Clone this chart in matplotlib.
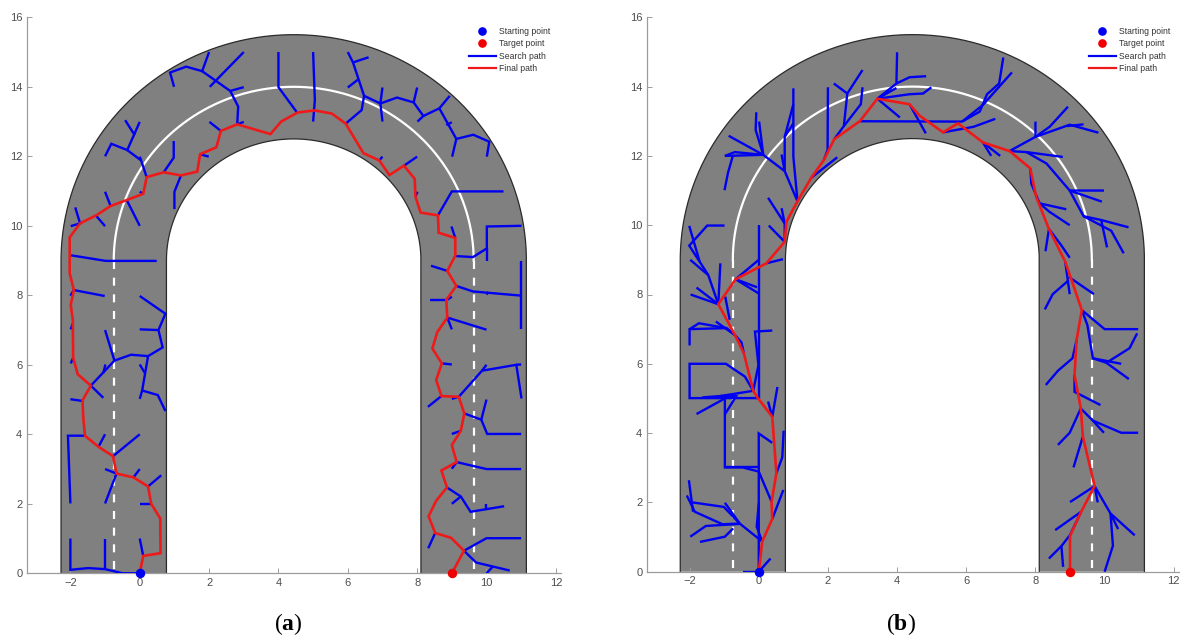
import numpy as np
import matplotlib
matplotlib.use('Agg')
import matplotlib.pyplot as pl

pl.rcParams['font.family'] = ['Liberation Sans', 'DejaVu Sans']
pl.rcParams['mathtext.fontset'] = 'custom'
pl.rcParams['mathtext.bf'] = 'Liberation Serif:bold'
pl.rcParams['mathtext.rm'] = 'Liberation Serif'

# road shape
road_cx = 4.44
road_cy = 9.0
outer_rx, outer_ry = 6.71, 6.5
mid_rx, mid_ry = 5.19, 5.0
inner_rx, inner_ry = 3.67, 3.5

start_point = (0, 0)
target_point = (9, 0)

# panel (a)
final_a = [(0,0),(0.1,0.5),(0.6,0.58),(0.59,1.58),(0.33,2.0),(0.24,2.5),(-0.18,2.76),(-0.67,2.87),
           (-0.77,3.37),(-1.19,3.64),(-1.58,3.96),(-1.63,4.5),(-1.65,4.98),(-1.41,5.4),(-1.79,5.73),
           (-1.92,6.2),(-1.93,7.29),(-1.99,7.72),(-1.9,8.15),(-2.02,8.63),(-2.02,9.67),(-1.72,10.07),
           (-1.24,10.31),(-0.84,10.57),(-0.375,10.74),(0.1,10.92),(0.2,11.4),(0.69,11.54),(1.19,11.45),
           (1.66,11.56),(1.74,12.06),(2.21,12.26),(2.34,12.73),(2.81,12.92),(3.77,12.64),(4.08,13.0),
           (4.55,13.26),(5.04,13.32),(5.54,13.23),(5.94,12.94),(6.45,12.09),(6.91,11.88),(7.2,11.46),
           (7.62,11.73),(7.93,11.35),(7.95,10.84),(8.1,10.38),(8.6,10.3),(8.62,9.8),(9.1,9.65),(9.1,9.14),
           (8.87,8.7),(9.13,8.27),(8.84,7.87),(8.87,7.36),(8.58,6.94),(8.44,6.47),(8.71,6.04),(8.55,5.56),
           (8.7,5.1),(9.2,5.08),(9.36,4.6),(9.26,4.1),(9.0,3.69),(9.14,3.2),(8.7,2.96),(8.86,2.47),
           (8.55,2.09),(8.33,1.64),(8.52,1.16),(8.98,1.02),(9.35,0.65),(9,0)]

search_a = [
    [(2,15),(1.8,14.45),(1.34,14.58),(0.875,14.41),(0.99,14.0)],
    [(1.8,14.45),(2.61,13.88),(2.84,13.43),(2.81,12.92)],
    [(3,15),(2.02,14.0)],
    [(2.61,13.88),(3,13.99)],
    [(2.81,12.92),(3,12.99)],
    [(4,15),(4,13.99),(4.53,13.27)],
    [(2.34,12.73),(2.01,12.99)],
    [(1.74,12.06),(1.99,11.99)],
    [(0.98,12.44),(0.98,11.96),(0.69,11.54)],
    [(1.19,11.45),(1,10.98),(1,10.48)],
    [(-0.42,13.04),(-0.16,12.63),(-0.36,12.18),(-0.82,12.36),(-1,12)],
    [(0,12.99),(-0.16,12.63)],
    [(-0.36,12.18),(0.04,11.88),(0.2,11.4)],
    [(0,11.99),(0.04,11.88)],
    [(0,10.98),(0.1,10.92)],
    [(-1,10.98),(-0.84,10.57)],
    [(-0.375,10.74),(0,10)],
    [(-1.25,10.28),(-1,9.99)],
    [(-1.86,10.53),(-1.72,10.07),(-1.99,9.99)],
    [(-1.98,9.15),(-0.98,8.99),(0.49,8.99)],
    [(-2,7.99),(-1.9,8.15),(-1.01,7.98)],
    [(0,7.98),(0.74,7.47),(0.54,7.0),(0.66,6.5),(0.24,6.25),(-0.25,6.29),(-0.73,6.12),(-1.41,5.4)],
    [(0,7.02),(0.54,7.0)],
    [(-1,7),(-0.73,6.12)],
    [(-0.99,6.01),(-1.05,5.76)],
    [(-1.41,5.4),(-1.05,5.05)],
    [(0.24,6.25),(0.07,5.26),(0,5.02)],
    [(0,6.01),(0.15,5.76)],
    [(0.07,5.26),(0.52,5.13),(0.74,4.67)],
    [(-2,5.01),(-1.65,4.96)],
    [(-1.99,6.04),(-1.92,6.2)],
    [(-1.99,7.02),(-1.93,7.19)],
    [(-1.58,3.96),(-2.07,3.96),(-2,2.01)],
    [(-1.19,3.64),(-1,4)],
    [(-0.77,3.37),(0,4)],
    [(-1,3),(-0.67,2.87),(-1,2.01)],
    [(-0.18,2.76),(0,3)],
    [(0.24,2.5),(0.62,2.82)],
    [(0,2),(0.33,2)],
    [(0,1),(0.1,0.5)],
    [(-2,1),(-2,0.1),(-1.49,0.15),(-1,0.12),(-0.49,0),(0,0)],
    [(-1,1),(-1,0.12)],
    [(5,15),(5.05,13.62),(5,13)],
    [(6,15),(6.15,14.7),(6.31,14.22),(6.47,13.74),(6.4,13.33),(5.94,12.94)],
    [(6.15,14.7),(6.6,14.85)],
    [(6.31,14.22),(6,13.98)],
    [(6.47,13.74),(6.94,13.52),(7.42,13.69),(7.9,13.55),(8.18,13.16),(8.01,13)],
    [(7,13.98),(6.94,13.52),(7,13)],
    [(8,13.98),(7.9,13.55)],
    [(8.18,13.16),(8.64,13.38),(8.94,13.74)],
    [(8.64,13.38),(9.13,12.5),(9.01,11.99)],
    [(9.13,12.5),(9.62,12.62),(10.08,12.42),(10.01,11.99)],
    [(8.84,12.9),(9,12.98)],
    [(6.91,11.88),(7,11.99)],
    [(7.62,11.73),(8,11.99)],
    [(7.95,10.84),(8.01,10.98)],
    [(8.6,10.3),(9,10.99),(10.49,10.99)],
    [(8.99,9.98),(9.1,9.65)],
    [(9.1,9.13),(9.61,9.1),(10.01,9.35),(10.01,9.98),(11.01,10)],
    [(10.01,9.35),(10.01,8.99)],
    [(8.4,8.85),(8.88,8.7)],
    [(9.13,8.27),(9.61,8.11),(11.01,7.99)],
    [(11,8.99),(11,7.02)],
    [(10.05,8.1),(10,8.02)],
    [(8.36,7.87),(8.84,7.87)],
    [(8.87,7.87),(9,7.96)],
    [(8.87,7.36),(10,7.01)],
    [(8.87,7.36),(9,7.02)],
    [(8.71,6.04),(9,6.01)],
    [(9.2,5.08),(9.87,5.83),(10.86,6),(11.01,5.03)],
    [(9.87,5.83),(10,6)],
    [(10.86,6),(11,6.01)],
    [(8.7,5.1),(8.31,4.79)],
    [(9.2,5.08),(9,5.02)],
    [(9.36,4.6),(9.85,4.42),(10,5)],
    [(9.85,4.42),(10.02,4.01),(11,4.01)],
    [(9.26,4.1),(9,4.01)],
    [(9.14,3.2),(9.61,3.09),(10,3),(11,3)],
    [(9.14,3.2),(9,3.01)],
    [(8.86,2.47),(9.26,2.21),(9.54,1.77),(10.51,1.93)],
    [(9.26,2.21),(9,2)],
    [(10,2),(10,1.86)],
    [(8.52,1.16),(8.32,0.72)],
    [(9.35,0.65),(10,1.01),(11,1.01)],
    [(9.35,0.65),(9.7,0.31),(10.67,0.08)],
    [(10,0),(10.18,0.19)],
]

# panel (b)
final_b = [(0,0),(0.1,0.87),(0.39,1.52),(0.37,2.02),(0.51,2.84),(0.39,4.47),(-0.04,5.03),(-0.16,5.22),
           (-0.43,6.3),(-0.69,6.83),(-0.92,7.26),(-1.17,7.72),(-0.67,8.44),(0.22,8.9),(0.75,9.52),(0.8,10.1),
           (1.12,10.69),(1.52,11.37),(1.88,11.88),(2.18,12.48),(2.92,13.0),(3.43,13.65),(4.36,13.49),
           (4.65,13.16),(5.33,12.68),(5.76,12.94),(6.48,12.39),(7.25,12.14),(7.85,11.64),(8.02,10.82),
           (8.39,9.89),(8.86,8.95),(9.34,7.55),(9.19,6.69),(9.13,5.68),(9.31,4.71),(9.37,3.9),(9.71,2.47),
           (9.32,1.73),(9,1.03),(9,0)]

search_b = [
    [(0,0),(0.34,0.38)],
    [(-0.47,0),(0,0)],
    [(0,0),(0,3.99),(0.39,3.72)],
    [(0.1,0.87),(-0.06,1.3),(0,1.97)],
    [(0.1,0.87),(-0.55,1.39),(-0.98,1.99)],
    [(-0.55,1.39),(-1.05,1.37),(-1.85,1.73),(-2.08,2.2)],
    [(-0.55,1.38),(-1.53,1.32),(-1.98,1.01)],
    [(-0.74,1.25),(-0.98,1.01),(-1.7,0.86)],
    [(-2.02,2.64),(-1.9,1.73)],
    [(-1.92,2.0),(-1.01,1.87),(-0.55,1.39)],
    [(0.39,1.52),(0.71,2.36)],
    [(0.37,2.02),(0,2.89),(-0.47,3.01),(-0.98,3.01),(-0.98,5)],
    [(-0.98,3.01),(0,3.01)],
    [(0.51,2.84),(0.68,3.3),(0.72,4.07)],
    [(0.39,4.47),(0.54,5.33)],
    [(0.39,4.47),(0.27,4.91)],
    [(-0.98,5),(-1.8,4.55)],
    [(-1.63,5.03),(-1.11,5.07),(-0.16,5.22)],
    [(-0.98,4.54),(-0.65,5.07),(-1.11,5.07)],
    [(-0.04,5.01),(-2,5.01),(-2,6),(-0.95,6),(-0.4,5.63),(-0.16,5.22)],
    [(-0.04,5.01),(0,5.01),(0,10)],
    [(-0.16,5.22),(-0.01,5.96),(-0.11,6.93),(0.39,6.96)],
    [(-0.43,6.3),(-0.5,6.62),(-0.69,6.83)],
    [(-2,6.53),(-2,7),(-0.93,7.03),(-0.69,6.83)],
    [(-2,7),(-1.73,7.17),(-0.93,7.03)],
    [(-1.24,7.22),(-0.69,6.83)],
    [(-1.17,7.72),(-1.97,8)],
    [(-1.17,7.72),(-1.8,8.2)],
    [(-1.17,7.72),(-1.46,8.56),(-1.98,9)],
    [(-1.46,8.56),(-1.71,8.95),(-2.01,9.41),(-1.49,9.99),(-0.99,9.99)],
    [(-1.71,8.95),(-2.01,9.98)],
    [(-1.11,8.9),(-1.17,7.72)],
    [(-0.97,7.94),(-0.84,7.27)],
    [(-0.67,8.44),(-0.05,8.21)],
    [(-0.67,8.44),(0,8.03)],
    [(-0.67,8.44),(0,9)],
    [(0.22,8.9),(0.7,9.02)],
    [(0.75,9.52),(0.29,9.99)],
    [(0.75,9.52),(0.75,10.05),(0.66,10.49)],
    [(0.75,10.05),(0.27,10.79)],
    [(1.12,10.69),(0.75,11.56)],
    [(1.12,10.69),(1,11.98),(1,13.95)],
    [(0.75,11.56),(0.66,12.04)],
    [(0.75,11.56),(0.75,12.55),(1,13.49)],
    [(0.75,12.55),(1,12.94)],
    [(0.75,11.56),(0.13,12.03),(-0.69,12.11),(-0.98,12.0)],
    [(0.13,12.03),(-0.87,12.58)],
    [(0.13,12.03),(-0.09,12.75),(-0.07,13.26)],
    [(0.13,12.03),(0.01,12.99)],
    [(0.13,12.03),(-0.98,12.0)],
    [(-0.75,12),(-0.89,11.51),(-0.99,11.01)],
    [(1.52,11.37),(2.27,11.96)],
    [(1.88,11.88),(1.99,12.17),(2,13.98)],
    [(2.18,12.48),(2.46,12.86),(2.56,13.8),(3.0,14.48)],
    [(2.56,13.8),(2.17,14.09)],
    [(2.46,12.86),(2.95,13.49),(3.0,13.98)],
    [(2.92,13.0),(5.88,12.99)],
    [(3.43,13.65),(3.98,14.09),(4,14.99)],
    [(3.98,14.09),(4.36,14.27),(4.84,14.3)],
    [(3.43,13.65),(3.98,13.96)],
    [(3.43,13.65),(4.36,13.78),(4.75,13.8),(4.99,13.98)],
    [(3.43,13.65),(4.08,13.11)],
    [(4.36,13.49),(4.83,12.65)],
    [(5.33,12.68),(6.21,12.84),(6.84,13.07)],
    [(5.88,12.99),(6.39,13.28),(6.6,13.78),(6.95,14.09),(7.07,14.84)],
    [(5.88,12.99),(6.48,13.47),(7.32,14.41)],
    [(6.48,12.39),(6.98,12.0)],
    [(6.48,12.39),(6.72,12)],
    [(7.25,12.14),(8,12.55),(8,12.99)],
    [(8,12.55),(8.41,12.84),(8.94,13.42)],
    [(8,12.55),(8.99,12.9),(9.82,12.67)],
    [(8.9,12.86),(9.39,12.91)],
    [(7.25,12.14),(7.74,12.11),(8.79,11.97)],
    [(7.74,12.11),(8.32,11.78),(8.99,11.0),(9.98,11)],
    [(8.99,11.0),(9.92,10.68)],
    [(8.99,11.0),(9.39,10.26),(9.9,10.15),(10.69,9.94)],
    [(9.39,10.26),(10.19,9.84),(10.55,9.19)],
    [(9.9,10.15),(10.07,9.36)],
    [(7.85,11.64),(7.88,11.2),(8.12,10.63),(8.89,10.46)],
    [(8.12,10.63),(8.4,10.39),(8.99,10.0)],
    [(8.39,9.89),(8.29,9.25)],
    [(8.39,9.89),(8.74,9.43),(8.99,9.06)],
    [(8.86,8.95),(8.99,8.01)],
    [(8.96,8.51),(9.69,8.01)],
    [(8.96,8.41),(8.5,8.01),(8.27,7.57)],
    [(9.34,7.55),(9.5,7.12),(9.66,6.16),(10.05,6.03),(10.7,5.56)],
    [(9.34,7.55),(10,7),(10.97,7)],
    [(9.66,6.16),(10.48,6)],
    [(10.1,6.06),(10.72,6.45),(10.94,6.88)],
    [(9.19,6.69),(9.07,6.16),(8.65,5.8),(8.3,5.39)],
    [(9.13,5.68),(9.13,5.19),(9.88,4.81)],
    [(9.31,4.71),(9.66,4.36),(10.48,4.01),(10.97,4.01)],
    [(9.66,4.36),(9.98,4.01)],
    [(9.31,4.71),(8.99,4.01),(8.65,3.66)],
    [(9.37,3.9),(9.1,3.01)],
    [(9.71,2.47),(9.0,2.01)],
    [(9.71,2.47),(9.8,2.0)],
    [(9.71,2.47),(10.17,1.68),(10.87,1.05)],
    [(10.17,1.68),(10.24,0.75),(10,0)],
    [(10.17,1.68),(10.39,1.23)],
    [(9.32,1.73),(8.57,1.2)],
    [(9.32,1.73),(9.0,1.06),(8.75,0.74),(8.39,0.38)],
    [(8.75,0.74),(8.8,0.14)],
]

W, H = 1180, 637
GREY = '#9c9c9c'
BLUE = '#0000f0'
RED = '#ee1a1a'
theta = np.linspace(0, np.pi, 181)


def draw_panel(px_left, px_right, px_top, px_bottom, xlim, search, final, label, label_px):
    ax = f.add_axes([px_left/W, 1 - px_bottom/H, (px_right - px_left)/W, (px_bottom - px_top)/H])
    # road: two straight legs joined by an elliptical arc
    ox = road_cx + outer_rx*np.cos(theta)
    oy = road_cy + outer_ry*np.sin(theta)
    ix = road_cx + inner_rx*np.cos(theta)
    iy = road_cy + inner_ry*np.sin(theta)
    rx = np.concatenate(([ox[0]], ox, [ox[-1], ix[-1]], ix[::-1], [ix[0]]))
    ry = np.concatenate(([0], oy, [0, 0], iy[::-1], [0]))
    ax.fill(rx, ry, facecolor='#808080', edgecolor='none', zorder=1)
    for xs, ys in ((np.r_[ox[0], ox, ox[-1]], np.r_[0, oy, 0]), (np.r_[ix[0], ix, ix[-1]], np.r_[0, iy, 0])):
        ax.plot(xs, ys, color='#2a2a2a', lw=0.9, zorder=2)
    # centre line: solid on the bend, dashed on the legs
    ax.plot(road_cx + mid_rx*np.cos(theta), road_cy + mid_ry*np.sin(theta), color='white', lw=1.6, zorder=3)
    for side in (-1, 1):
        ax.plot([road_cx + side*mid_rx]*2, [road_cy, 0], color='white', lw=1.6, zorder=3,
                dashes=(3.6, 3.9), dash_capstyle='butt')
    for seg in search:
        xs, ys = zip(*seg)
        ax.plot(xs, ys, color=BLUE, lw=1.7, zorder=4, solid_joinstyle='miter', solid_capstyle='butt')
    xs, ys = zip(*final)
    ax.plot(xs, ys, color=RED, lw=1.9, zorder=5, solid_joinstyle='miter')
    ax.plot(*start_point, 'o', color=BLUE, ms=5.8, zorder=6, clip_on=False)
    ax.plot(*target_point, 'o', color='#f00000', ms=5.8, zorder=6, clip_on=False)

    ax.set_xlim(*xlim)
    ax.set_ylim(0, 16)
    ax.set_xticks(range(-2, 13, 2))
    ax.set_yticks(range(0, 17, 2))
    for s in ('top', 'right'):
        ax.spines[s].set_visible(False)
    for s in ('left', 'bottom'):
        ax.spines[s].set_color(GREY)
        ax.spines[s].set_linewidth(0.9)
    ax.tick_params(direction='in', length=3.6, width=0.7, color=GREY, labelcolor='#4d4d4d', labelsize=8, pad=3.2)
    ax.patch.set_alpha(0)

    h = [ax.plot([], [], 'o', color=BLUE, ms=5.2)[0],
         ax.plot([], [], 'o', color='#f00000', ms=5.2)[0],
         ax.plot([], [], '-', color=BLUE, lw=1.6)[0],
         ax.plot([], [], '-', color=RED, lw=1.6)[0]]
    ax.legend(h, ['Starting point', 'Target point', 'Search path', 'Final path'], frameon=False,
              fontsize=6.2, handlelength=3.2, handletextpad=0.35, labelspacing=0.38, borderpad=0,
              borderaxespad=0, loc='upper left', labelcolor='#333333',
              bbox_to_anchor=((px_left + 442)/W, 1 - 27/H), bbox_transform=f.transFigure)
    f.text(label_px/W, 1 - 624/H, label, ha='center', va='center', fontsize=17,
           family='Liberation Serif', color='black')
    return ax


f = pl.figure(figsize=(W/100, H/100), dpi=100)
draw_panel(26.7, 560.7, 17.3, 573.3, (-3.26, 12.14), search_a, final_a, r'($\mathbf{a}$)', 288)
draw_panel(646.7, 1179, 17.3, 571.7, (-3.24, 12.15), search_b, final_b, r'($\mathbf{b}$)', 901)
pl.savefig('out.png', dpi=100)
